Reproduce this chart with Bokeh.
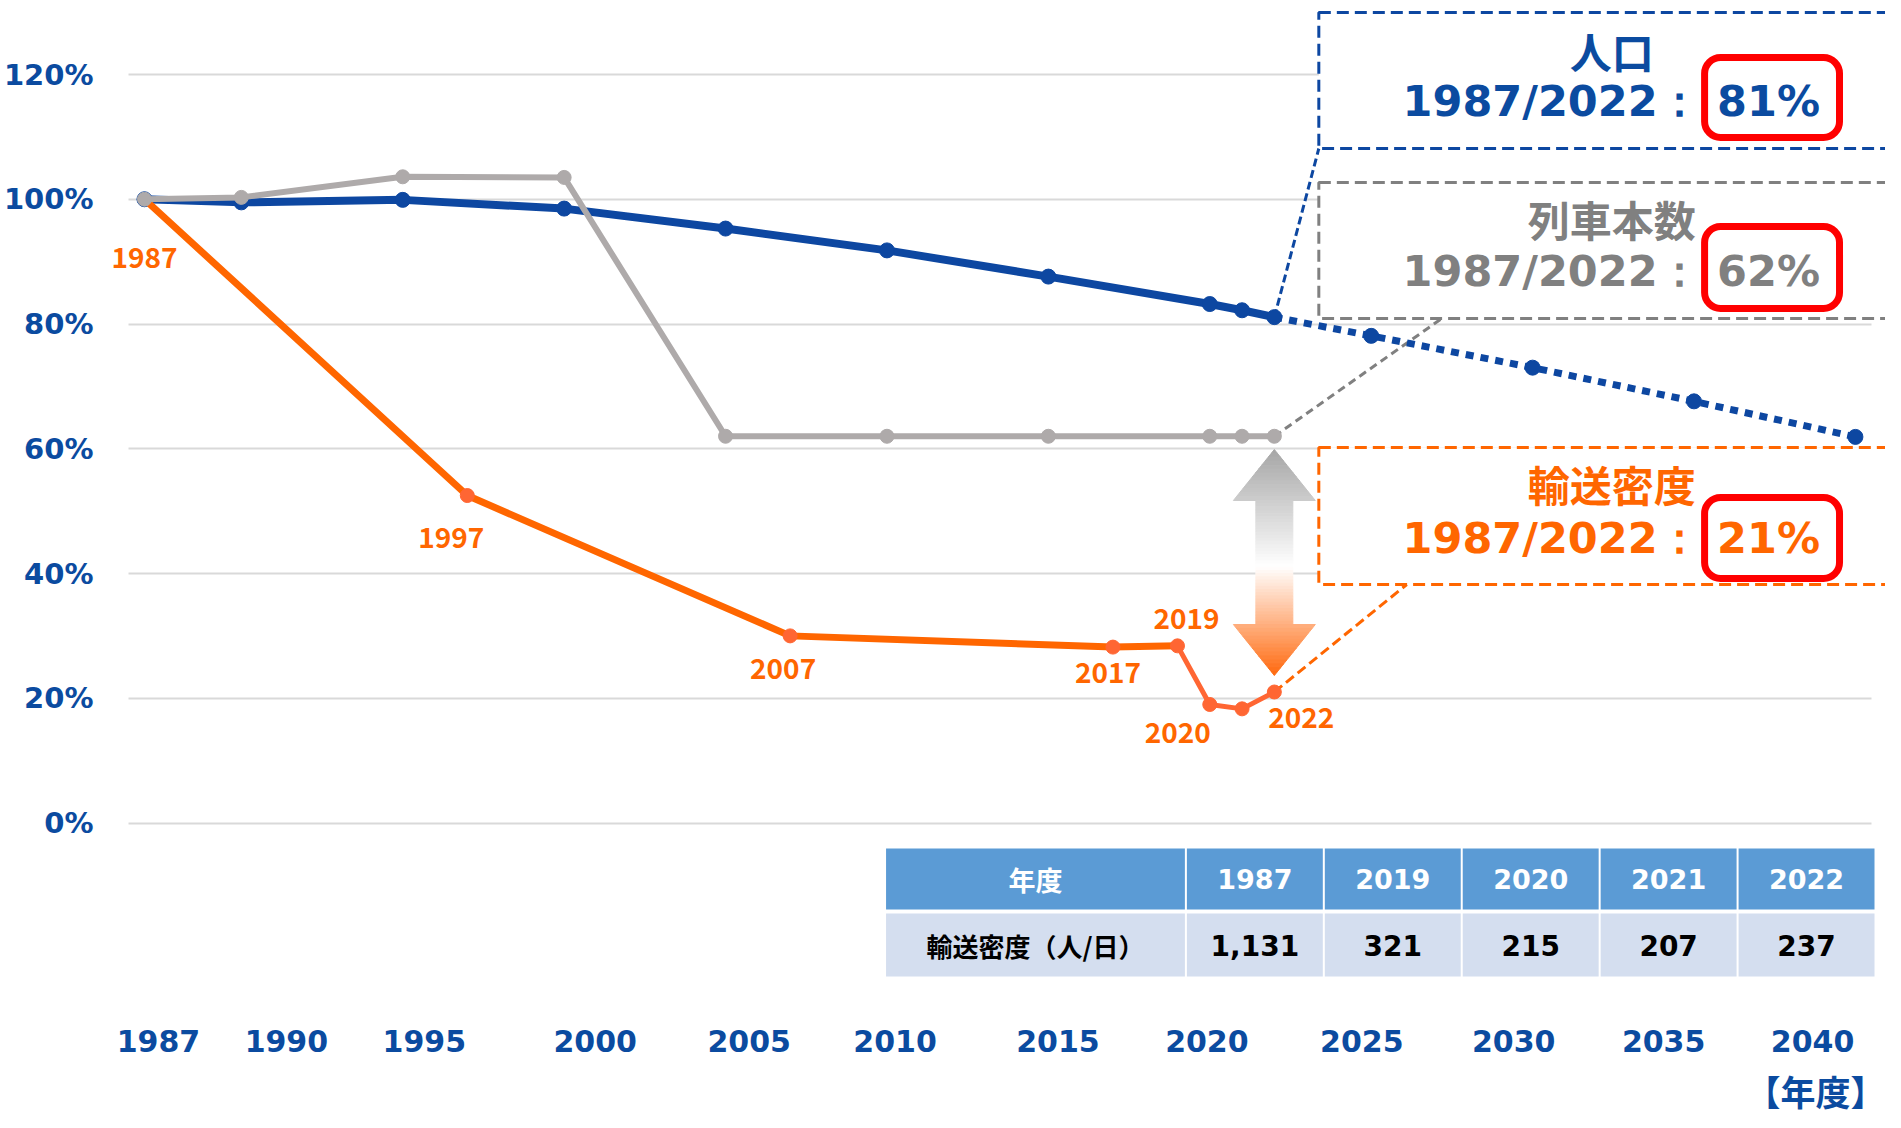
import numpy as np
from bokeh.plotting import figure
from bokeh.models import FixedTicker, BoxAnnotation, Label, Range1d, ColumnDataSource, Title
from bokeh.core.properties import value
from bokeh.embed import file_html
from bokeh.resources import INLINE

# ---------------- data ----------------
pop_years = [1987, 1990, 1995, 2000, 2005, 2010, 2015, 2020, 2021, 2022]
pop_vals = [100.0, 99.5, 99.9, 98.5, 95.3, 91.8, 87.6, 83.2, 82.2, 81.1]
pop_proj_years = [2022, 2025, 2030, 2035, 2040]
pop_proj_vals = [81.1, 78.1, 73.0, 67.6, 61.9]

train_years = [1987, 1990, 1995, 2000, 2005, 2010, 2015, 2020, 2021, 2022]
train_vals = [100.0, 100.3, 103.6, 103.5, 62.0, 62.0, 62.0, 62.0, 62.0, 62.0]

dens_years = [1987, 1997, 2007, 2017, 2019]
dens_vals = [100.0, 52.5, 30.0, 28.2, 28.4]
dens_recent_years = [2019, 2020, 2021, 2022]
dens_recent_vals = [28.4, 19.0, 18.3, 21.0]

dens_label_years = [1987, 1997, 2007, 2017, 2019, 2020, 2022]
dens_label_vals = [100.0, 52.5, 30.0, 28.2, 28.4, 19.0, 21.0]
dens_label_text = ["1987", "1997", "2007", "2017", "2019", "2020", "2022"]

y_ticks = [0, 20, 40, 60, 80, 100, 120]
y_tick_labels = ["0%", "20%", "40%", "60%", "80%", "100%", "120%"]
x_tick_labels = ["1987", "1990", "1995", "2000", "2005", "2010",
                 "2015", "2020", "2025", "2030", "2035", "2040"]

table_header = ["年度", "1987", "2019", "2020", "2021", "2022"]
table_row = ["輸送密度（人/日）", "1,131", "321", "215", "207", "237"]

box_titles = ["人口", "列車本数", "輸送密度"]
box_period = "1987/2022："
box_ratios = ["81%", "62%", "21%"]
x_axis_title = "【年度】"

# ---------------- layout helpers (canvas pixel -> data) ----------------
def X(px):
    return 1987 + (px - 143) / 32.3

def Y(py):
    return (822.5 - py) / 6.2375

W, H = 1885, 1124
FRAME_L, FRAME_B = 100, 1012

# label positions for x ticks (placed like the original text boxes)
x_tick_pos = [round(X(p), 3) for p in [157, 285, 423, 594, 748, 894, 1057, 1206, 1361, 1513, 1663, 1812]]

BLUE = "#0D47A1"
BLUE_TXT = "#0B4BA0"
GRAY = "#AEAAAA"
GRAY_TXT = "#808080"
ORANGE = "#FF6600"
ORANGE2 = "#FF6633"
RED = "#FF0000"

p = figure(width=W, height=H, output_backend="svg", toolbar_location=None,
           x_range=Range1d(X(FRAME_L), X(W)), y_range=Range1d(Y(FRAME_B), Y(0)),
           min_border_left=FRAME_L, min_border_right=0, min_border_top=0,
           min_border_bottom=H - FRAME_B)
p.outline_line_color = None
p.background_fill_color = "white"
p.border_fill_color = "white"

# axes
p.yaxis.ticker = FixedTicker(ticks=y_ticks)
p.yaxis.major_label_overrides = {t: l for t, l in zip(y_ticks, y_tick_labels)}
p.xaxis.ticker = FixedTicker(ticks=x_tick_pos)
p.xaxis.major_label_overrides = {t: l for t, l in zip(x_tick_pos, x_tick_labels)}
for ax in (p.xaxis, p.yaxis):
    ax.axis_line_color = None
    ax.major_tick_line_color = None
    ax.minor_tick_line_color = None
    ax.major_label_text_font = "DejaVu Sans"
    ax.major_label_text_font_style = "bold"
    ax.major_label_text_color = BLUE_TXT
p.yaxis.major_label_text_font_size = "29px"
p.yaxis.major_label_standoff = 2
p.xaxis.major_label_text_font_size = "30px"
p.xaxis.major_label_standoff = 11

p.xgrid.visible = False
p.ygrid.grid_line_color = "#D9D9D9"
p.ygrid.grid_line_width = 2
try:
    p.ygrid.cross_bounds = (X(127), X(1871))
except Exception:
    pass

# x-axis unit title at bottom right
p.add_layout(Title(text=x_axis_title, align="right", text_font="Noto Sans CJK JP",
                   text_font_style="bold", text_font_size="35px", text_color=BLUE_TXT,
                   offset=0, standoff=16), "below")

# ---------------- gradient double arrow ----------------
cx = 2022
top_tip, hb_top, hb_bot, bot_tip = Y(449), Y(500), Y(624), Y(675)
head_hw, shaft_hw = 41 / 32.3, 18.5 / 32.3
c_top = np.array([166, 166, 166])
c_mid = np.array([255, 255, 255])
c_bot = np.array([255, 106, 16])

def col_at(t):
    if t < 0.52:
        c = c_top + (c_mid - c_top) * (t / 0.52)
    else:
        c = c_mid + (c_bot - c_mid) * ((t - 0.52) / 0.48)
    c = np.clip(np.round(c), 0, 255).astype(int)
    return "#%02x%02x%02x" % tuple(c)

axs, ays, acol = [], [], []
segs = [
    (np.linspace(top_tip, hb_top, 14), lambda y: head_hw * (top_tip - y) / (top_tip - hb_top)),
    (np.linspace(hb_top, hb_bot, 40), lambda y: shaft_hw),
    (np.linspace(hb_bot, bot_tip, 14), lambda y: head_hw * (y - bot_tip) / (hb_bot - bot_tip)),
]
for ys_, hw in segs:
    for ya, yb in zip(ys_[:-1], ys_[1:]):
        wa, wb = hw(ya), hw(yb)
        axs.append([cx - wa, cx + wa, cx + wb, cx - wb])
        ays.append([ya, ya, yb, yb])
        t = (top_tip - (ya + yb) / 2) / (top_tip - bot_tip)
        acol.append(col_at(t))
p.patches(axs, ays, fill_color=acol, line_color=acol, line_width=1)

# ---------------- connectors ----------------
p.line([pop_proj_years[0], X(1318)], [pop_proj_vals[0], Y(148)], line_color=BLUE, line_width=3, line_dash="8 4")
p.line([train_years[-1], X(1441)], [train_vals[-1], Y(318)], line_color=GRAY_TXT, line_width=3, line_dash="8 5")
p.line([dens_recent_years[-1], X(1406)], [dens_recent_vals[-1], Y(584)], line_color=ORANGE, line_width=3, line_dash="10 5")

# ---------------- series ----------------
p.line(pop_years, pop_vals, line_color=BLUE, line_width=8)
p.line(pop_proj_years, pop_proj_vals, line_color=BLUE, line_width=7, line_dash="8 7")
p.scatter(pop_years + pop_proj_years[1:], pop_vals + pop_proj_vals[1:], size=15, color=BLUE)

p.line(dens_years, dens_vals, line_color=ORANGE, line_width=7)
p.line(dens_recent_years, dens_recent_vals, line_color=ORANGE2, line_width=5)
p.scatter(dens_years[1:] + dens_recent_years[1:], dens_vals[1:] + dens_recent_vals[1:], size=14, color=ORANGE2)

p.line(train_years, train_vals, line_color=GRAY, line_width=6)
p.scatter(train_years, train_vals, size=14, color=GRAY)

lab_src = ColumnDataSource(dict(
    x=dens_label_years, y=dens_label_vals, text=dens_label_text,
    xo=[0, -16, -7, -5, 9, -32, 27], yo=[58, 42, 33, 25, -27, 28, 25]))
p.text(x="x", y="y", text="text", x_offset="xo", y_offset="yo", source=lab_src,
       text_font=value("Noto Sans CJK JP"), text_font_style="bold", text_font_size="28px",
       text_color=ORANGE, text_align="center", text_baseline="middle")

# ---------------- table ----------------
col_l = [885, 1186, 1324, 1462, 1600, 1738]
col_r = [1184, 1322, 1460, 1598, 1736, 1874]
p.quad(left=[X(v) for v in col_l], right=[X(v) for v in col_r],
       top=[Y(848)] * 6, bottom=[Y(909)] * 6, fill_color="#5B9BD5", line_color=None)
p.quad(left=[X(v) for v in col_l], right=[X(v) for v in col_r],
       top=[Y(913)] * 6, bottom=[Y(976)] * 6, fill_color="#D4DEEF", line_color=None)
ccx = [X((a + b) / 2) for a, b in zip(col_l, col_r)]
p.text(x=ccx[:1], y=[Y(878.5)], text=table_header[:1], text_font=value("Noto Sans CJK JP"),
       text_font_style="bold", text_font_size="27px", text_color="white",
       text_align="center", text_baseline="middle")
p.text(x=ccx[1:], y=[Y(878.5)] * 5, text=table_header[1:], text_font=value("DejaVu Sans"),
       text_font_style="bold", text_font_size="27px", text_color="white",
       text_align="center", text_baseline="middle")
p.text(x=ccx[:1], y=[Y(944.5)], text=table_row[:1], text_font=value("Noto Sans CJK JP"),
       text_font_style="bold", text_font_size="26px", text_color="black",
       text_align="center", text_baseline="middle")
p.text(x=ccx[1:], y=[Y(944.5)] * 5, text=table_row[1:], text_font=value("DejaVu Sans"),
       text_font_style="bold", text_font_size="28px", text_color="black",
       text_align="center", text_baseline="middle")

# ---------------- summary boxes ----------------
box_cols = [BLUE, GRAY_TXT, ORANGE]
box_tb = [(12, 148), (182, 318), (447, 584)]
red_tb = [(57, 137), (226, 308), (497, 578)]
title_y = [50, 218, 483]
line_y = [100, 270, 537]
for i in range(3):
    p.add_layout(BoxAnnotation(left=X(1318), right=X(1960), top=Y(box_tb[i][0]), bottom=Y(box_tb[i][1]),
                               fill_color="white", fill_alpha=1.0, line_color=box_cols[i],
                               line_alpha=1.0, line_width=3, line_dash="12 6"))
for i in range(3):
    p.add_layout(BoxAnnotation(left=X(1704), right=X(1839), top=Y(red_tb[i][0]), bottom=Y(red_tb[i][1]),
                               fill_alpha=0.0, line_color=RED, line_alpha=1.0, line_width=7,
                               border_radius=16))
txt_cols = [BLUE_TXT, GRAY_TXT, ORANGE]
for i in range(3):
    p.add_layout(Label(x=X(1611), y=Y(title_y[i]), text=box_titles[i], text_align="center",
                       text_baseline="middle", text_font="Noto Sans CJK JP", text_font_style="bold",
                       text_font_size="42px", text_color=txt_cols[i]))
    p.add_layout(Label(x=X(1700), y=Y(line_y[i]), text=box_period, text_align="right",
                       text_baseline="middle", text_font="DejaVu Sans", text_font_style="bold",
                       text_font_size="43px", text_color=txt_cols[i]))
    p.add_layout(Label(x=X(1768), y=Y(line_y[i]), text=box_ratios[i], text_align="center",
                       text_baseline="middle", text_font="DejaVu Sans", text_font_style="bold",
                       text_font_size="43px", text_color=txt_cols[i]))

open("out.html", "w").write(file_html(p, INLINE))
